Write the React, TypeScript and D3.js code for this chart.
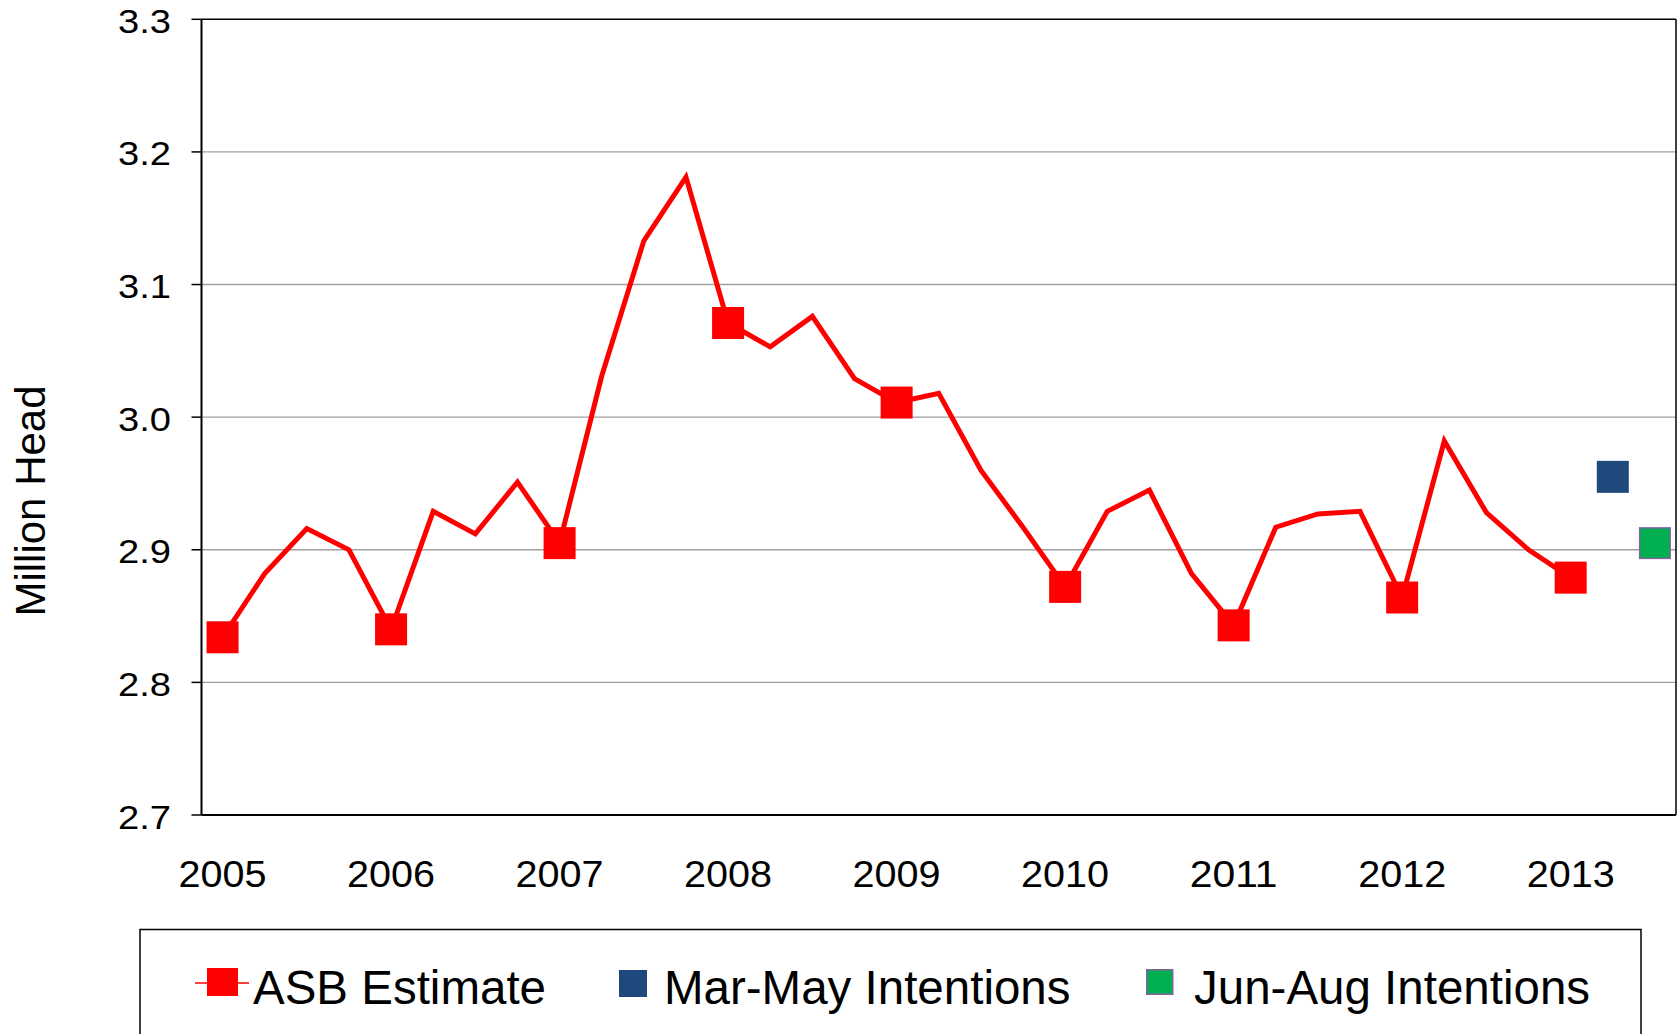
import React from 'react';
import * as d3 from 'd3';

// data
const years = ['2005', '2006', '2007', '2008', '2009', '2010', '2011', '2012', '2013'];
const quarters = ['Q1', 'Q2', 'Q3', 'Q4'];
const asbEstimate = [
  2.834, 2.882, 2.916, 2.900,
  2.840, 2.929, 2.912, 2.951,
  2.905, 3.031, 3.133, 3.181,
  3.071, 3.053, 3.076, 3.029,
  3.011, 3.018, 2.960, 2.917,
  2.872, 2.929, 2.945, 2.882,
  2.843, 2.917, 2.927, 2.929,
  2.864, 2.982, 2.928, 2.900,
  2.879,
];
const marMayIntentions = [{ idx: 33, value: 2.955 }];
const junAugIntentions = [{ idx: 34, value: 2.905 }];
const yTicks = [2.7, 2.8, 2.9, 3.0, 3.1, 3.2, 3.3];
const legendItems = ['ASB Estimate', 'Mar-May Intentions', 'Jun-Aug Intentions'];

const categories = years.flatMap(y => quarters.map(q => `${y} ${q}`)).slice(0, 35);

const W = 1679, H = 1034;
const margin = { left: 201.5, right: 3, top: 19.3, bottom: 219 };
const FONT = '"Liberation Sans", Arial, sans-serif';
const RED = '#FF0000';
const BLUE = '#1F497D';
const GREEN = '#00B050';

export default function App() {
  const x = d3.scaleBand<string>()
    .domain(categories)
    .range([margin.left, W - margin.right])
    .paddingInner(0);
  const y = d3.scaleLinear()
    .domain([2.7, 3.3])
    .range([H - margin.bottom, margin.top]);

  const cx = (i: number) => (x(categories[i]) as number) + x.bandwidth() / 2;

  const line = d3.line<number>()
    .x((d, i) => cx(i))
    .y(d => y(d));

  const plotL = margin.left, plotR = W - margin.right;
  const plotT = margin.top, plotB = H - margin.bottom;
  const ms = 32; // marker size

  return (
    <svg width={W} height={H} style={{ position: 'absolute', left: 0, top: 0, background: '#fff' }}
      fontFamily={FONT}>
      {/* gridlines */}
      {yTicks.slice(1, -1).map(t => (
        <line key={t} x1={plotL} x2={plotR} y1={y(t)} y2={y(t)} stroke="#A0A0A0" strokeWidth={1.4} />
      ))}
      {/* frame */}
      <line x1={plotL} x2={plotR} y1={plotT} y2={plotT} stroke="#000" strokeWidth={1.5} />
      <line x1={plotR} x2={plotR} y1={plotT} y2={plotB} stroke="#000" strokeWidth={1.5} />
      <line x1={plotL} x2={plotR} y1={plotB} y2={plotB} stroke="#000" strokeWidth={2} />
      <line x1={plotL} x2={plotL} y1={plotT} y2={plotB} stroke="#000" strokeWidth={2} />
      {/* y ticks and labels */}
      {yTicks.map(t => (
        <g key={t}>
          <line x1={plotL - 10} x2={plotL} y1={y(t)} y2={y(t)} stroke="#000" strokeWidth={1.5} />
          <text x={171} y={y(t) + 13.5} textAnchor="end" fontSize={34}
            textLength={53} lengthAdjust="spacingAndGlyphs">{t.toFixed(1)}</text>
        </g>
      ))}
      {/* x labels */}
      {years.map((yr, i) => (
        <text key={yr} x={cx(i * 4)} y={886.7} textAnchor="middle" fontSize={37}
          textLength={88} lengthAdjust="spacingAndGlyphs">{yr}</text>
      ))}
      {/* y title */}
      <text transform="translate(45,501) rotate(-90)" textAnchor="middle" fontSize={42}>Million Head</text>

      {/* ASB line */}
      <path d={line(asbEstimate) ?? ''} fill="none" stroke={RED} strokeWidth={5} strokeLinejoin="miter" />
      {asbEstimate.map((v, i) => i % 4 === 0 ? (
        <rect key={i} x={cx(i) - ms / 2} y={y(v) - ms / 2} width={ms} height={ms} fill={RED} />
      ) : null)}
      {marMayIntentions.map(d => (
        <rect key={d.idx} x={cx(d.idx) - ms / 2} y={y(d.value) - ms / 2} width={ms} height={ms} fill={BLUE} />
      ))}
      {junAugIntentions.map(d => (
        <rect key={d.idx} x={cx(d.idx) - ms / 2 + 0.75} y={y(d.value) - ms / 2 + 0.75} width={ms - 1.5} height={ms - 1.5}
          fill={GREEN} stroke="#8064A2" strokeWidth={1.5} />
      ))}

      {/* legend */}
      <rect x={140} y={929.5} width={1501} height={140} fill="none" stroke="#000" strokeWidth={1.5} />
      <line x1={195} x2={249} y1={983} y2={983} stroke={RED} strokeWidth={1.5} />
      <rect x={207} y={968} width={31} height={28} fill={RED} />
      <text x={253} y={1004} fontSize={47.5}>{legendItems[0]}</text>
      <rect x={619} y={970} width={28} height={27} fill={BLUE} />
      <text x={664} y={1004} fontSize={47.5}>{legendItems[1]}</text>
      <rect x={1146.75} y={969.75} width={26} height={24.5} fill={GREEN} stroke="#8064A2" strokeWidth={1.5} />
      <text x={1194} y={1004} fontSize={47.5}>{legendItems[2]}</text>
    </svg>
  );
}
